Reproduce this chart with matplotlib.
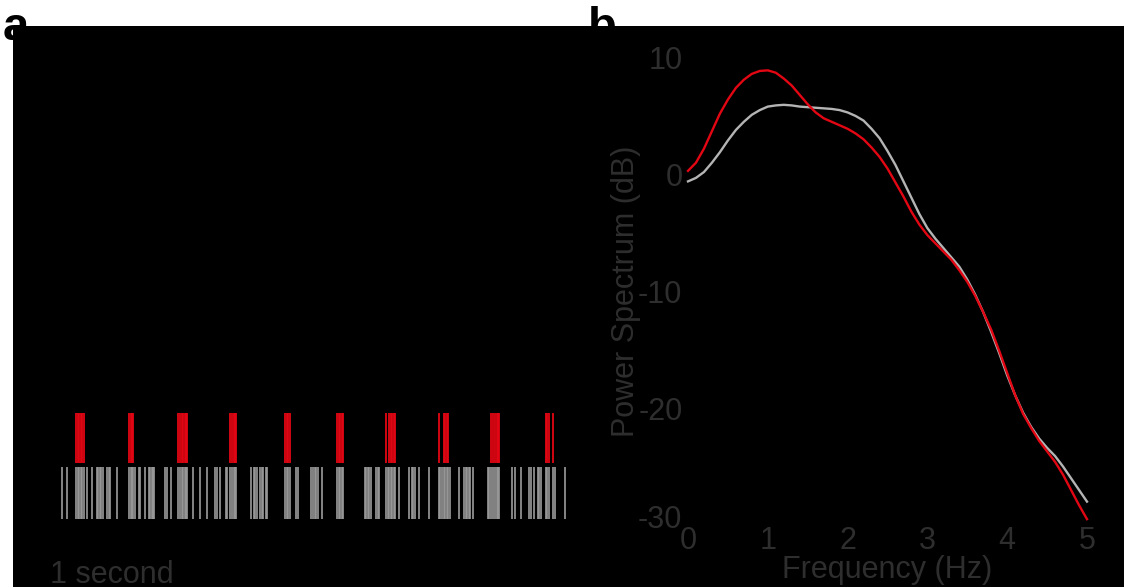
import matplotlib
matplotlib.use("Agg")
import matplotlib.pyplot as plt
from matplotlib.patches import Rectangle
from matplotlib.transforms import ScaledTranslation

plt.rcParams['font.family'] = ['Liberation Sans', 'DejaVu Sans']

# ---- data: spike times (s) ----
red_spikes = [0.32, 0.35, 0.38, 0.41, 0.44, 0.47,
              1.38, 1.41, 1.44, 1.46,
              2.36, 2.40, 2.43, 2.46, 2.49, 2.52, 2.54,
              3.39, 3.44, 3.47, 3.50, 3.51,
              4.50, 4.53, 4.56, 4.59,
              5.54, 5.57, 5.60, 5.63, 5.66,
              6.52, 6.58, 6.61, 6.64, 6.67, 6.70,
              7.57, 7.67, 7.70, 7.73, 7.76,
              8.62, 8.65, 8.70, 8.73, 8.76, 8.78,
              9.71, 9.74, 9.77, 9.86]

gray_spikes = [0.03, 0.14, 0.32, 0.35, 0.38, 0.41, 0.44, 0.47, 0.53, 0.63,
               0.73, 0.76, 0.79, 0.82, 0.85, 0.94, 0.97, 1.00, 1.14,
               1.38, 1.41, 1.44, 1.46, 1.49, 1.57, 1.60, 1.70,
               1.77, 1.80, 1.83, 1.86, 1.88, 2.10, 2.14, 2.22,
               2.36, 2.40, 2.43, 2.46, 2.49, 2.52, 2.54, 2.66, 2.80, 2.93,
               3.10, 3.13, 3.19, 3.31, 3.33, 3.39, 3.44, 3.47, 3.50, 3.51,
               3.81, 3.87, 3.90, 3.93, 4.00, 4.03, 4.06, 4.12, 4.14,
               4.50, 4.53, 4.56, 4.59, 4.72, 4.75, 5.01, 5.06, 5.09, 5.12, 5.15, 5.23,
               5.54, 5.57, 5.60, 5.63, 5.66, 6.09, 6.12, 6.15, 6.18, 6.21,
               6.32, 6.35, 6.38, 6.52, 6.55, 6.58, 6.61, 6.64, 6.67, 6.70, 6.78,
               6.98, 7.03, 7.06, 7.09, 7.17, 7.38,
               7.57, 7.60, 7.63, 7.67, 7.70, 7.73, 7.76, 7.79, 7.98,
               8.08, 8.11, 8.14, 8.17, 8.19, 8.25,
               8.55, 8.58, 8.62, 8.65, 8.70, 8.73, 8.76, 8.78,
               9.04, 9.10, 9.21, 9.38, 9.41, 9.47, 9.55, 9.58, 9.61,
               9.71, 9.74, 9.77, 9.86, 9.89, 10.09]

# ---- data: power spectra (dB) ----
freq = [0.0, 0.1, 0.2, 0.3, 0.4, 0.5, 0.6, 0.7, 0.8, 0.9,
        1.0, 1.1, 1.2, 1.3, 1.4, 1.5, 1.6, 1.7, 1.8, 1.9,
        2.0, 2.1, 2.2, 2.3, 2.4, 2.5, 2.6, 2.7, 2.8, 2.9,
        3.0, 3.1, 3.2, 3.3, 3.4, 3.5, 3.6, 3.7, 3.8, 3.9,
        4.0, 4.1, 4.2, 4.3, 4.4, 4.5, 4.6, 4.7, 4.8, 4.9, 5.0]
power_red = [0.3, 1.0, 2.2, 3.7, 5.2, 6.4, 7.4, 8.1, 8.6, 8.85,
             8.9, 8.7, 8.2, 7.6, 6.8, 6.0, 5.3, 4.8, 4.5, 4.2,
             3.9, 3.5, 3.0, 2.3, 1.5, 0.5, -0.7, -1.9, -3.2, -4.3,
             -5.2, -5.9, -6.6, -7.3, -8.2, -9.2, -10.4, -11.8, -13.3, -15.1,
             -17.0, -18.9, -20.5, -21.7, -22.8, -23.7, -24.6, -25.7, -27.0, -28.3, -29.5]
power_gray = [-0.6, -0.3, 0.2, 1.0, 1.9, 2.9, 3.8, 4.5, 5.1, 5.5,
              5.8, 5.9, 5.95, 5.9, 5.8, 5.75, 5.7, 5.65, 5.6, 5.5,
              5.3, 5.0, 4.6, 3.9, 3.1, 2.0, 0.8, -0.6, -2.0, -3.4,
              -4.6, -5.5, -6.3, -7.1, -7.9, -9.0, -10.3, -11.8, -13.5, -15.3,
              -17.2, -18.9, -20.4, -21.6, -22.6, -23.4, -24.1, -25.0, -26.0, -27.0, -28.0]

xticks = [0, 1, 2, 3, 4, 5]
yticks = [10, 0, -10, -20, -30]

RED = '#e30613'
GRAY_RASTER = '#9b9b9b'
GRAY_LINE = '#b4b4b4'
TXT = '#2e2e2e'

W, H = 1124, 587
fig = plt.figure(figsize=(W / 100, H / 100), dpi=100, facecolor='white')

# panel letters (behind the black panel)
fig.text(3 / W, 1 - 40 / H, 'a', fontsize=34, fontweight='bold', color='black',
         va='baseline', ha='left', zorder=0.5)
fig.text(588 / W, 1 - 40 / H, 'b', fontsize=34, fontweight='bold', color='black',
         va='baseline', ha='left', zorder=0.5)

# black panel
fig.patches.append(Rectangle((13 / W, 0), 1 - 13 / W, 561 / H, transform=fig.transFigure,
                             facecolor='black', edgecolor='none', zorder=1))

# ---- panel a: raster ----
axa = fig.add_axes([60 / W, 1 - 525 / H, 510 / W, 120 / H], zorder=2)
axa.set_facecolor('none')
axa.eventplot([gray_spikes], lineoffsets=0.267, linelengths=0.433,
              colors=GRAY_RASTER, linewidths=1.2)
axa.eventplot([red_spikes], lineoffsets=0.725, linelengths=0.417,
              colors=RED, linewidths=1.3)
axa.set_xlim(0, 10.2)
axa.set_ylim(0, 1)
axa.axis('off')

fig.text(50 / W, 1 - 583 / H, '1 second', fontsize=22, color=TXT,
         va='baseline', ha='left', zorder=3)

# ---- panel b: spectrum ----
axb = fig.add_axes([688 / W, 1 - 525 / H, 399 / W, 467.5 / H], zorder=2)
axb.set_facecolor('none')
axb.plot(freq, power_red, color=RED, lw=1.7, clip_on=False, zorder=3)
axb.plot(freq, power_gray, color=GRAY_LINE, lw=1.7, clip_on=False, zorder=2)
axb.set_xlim(0, 5)
axb.set_ylim(-30, 10)
axb.set_xticks(xticks)
axb.set_yticks(yticks)
axb.set_xticklabels([str(v) for v in xticks])
axb.set_yticklabels([str(v) for v in yticks])
axb.tick_params(axis='both', length=0, labelsize=22, labelcolor=TXT, color='black')
axb.tick_params(axis='x', pad=1)
axb.tick_params(axis='y', pad=4)
for s in axb.spines.values():
    s.set_visible(False)
# lowest y label sits slightly higher in the reference
lbl = axb.yaxis.get_major_ticks()[-1].label1
lbl.set_transform(lbl.get_transform() + ScaledTranslation(0, 8 / 100, fig.dpi_scale_trans))
axb.set_xlabel('Frequency (Hz)', fontsize=22, color=TXT)
axb.set_ylabel('Power Spectrum (dB)', fontsize=22, color=TXT)
axb.xaxis.set_label_coords(0.5, -(555 - 525) / 467.5)
axb.yaxis.set_label_coords(-(688 - 641) / 399, 0.5)

fig.savefig('out.png', dpi=100, facecolor='white')
